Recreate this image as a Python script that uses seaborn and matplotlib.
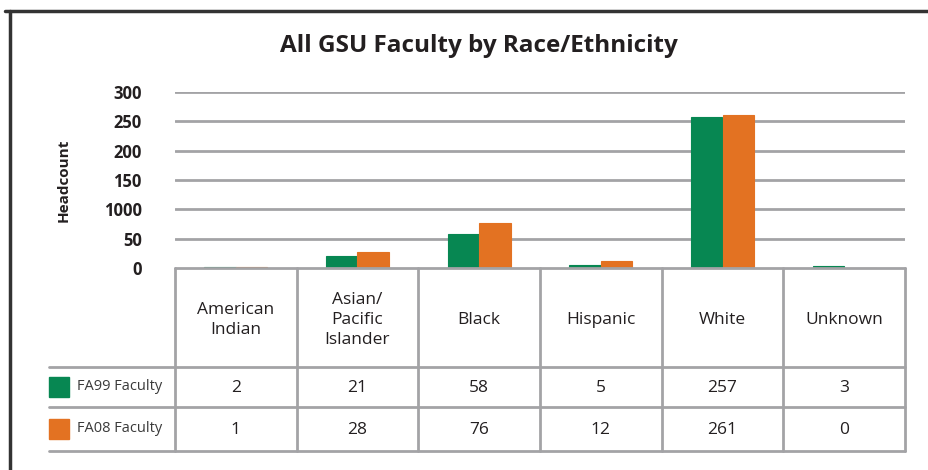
import pandas as pd
import matplotlib.pyplot as plt
import seaborn as sns
from matplotlib.lines import Line2D
from matplotlib.patches import Rectangle

# Data
categories = ['American Indian', 'Asian/Pacific Islander', 'Black', 'Hispanic', 'White', 'Unknown']
cat_labels = ['American\nIndian', 'Asian/\nPacific\nIslander', 'Black', 'Hispanic', 'White', 'Unknown']
fa99 = [2, 21, 58, 5, 257, 3]
fa08 = [1, 28, 76, 12, 261, 0]
series_names = ['FA99 Faculty', 'FA08 Faculty']
ytick_vals = [0, 50, 100, 150, 200, 250, 300]
ytick_labels = ['0', '50', '1000', '150', '200', '250', '300']  # as printed in the source

colors = ['#078752', '#E37222']
grid_col = '#A3A3A6'
text_col = '#231F20'

df = pd.DataFrame({
    'category': categories * 2,
    'series': [series_names[0]] * 6 + [series_names[1]] * 6,
    'value': fa99 + fa08,
})

sns.set_style('white')
plt.rcParams['font.family'] = ['Open Sans', 'DejaVu Sans']

W, H = 929, 470
fig = plt.figure(figsize=(W / 100, H / 100), dpi=100)

# main bar chart
ax = fig.add_axes([175 / W, (H - 268) / H, 730 / W, 176 / H])
sns.barplot(data=df, x='category', y='value', hue='series', order=categories,
            palette=colors, width=0.52, gap=0, saturation=1, legend=False, ax=ax,
            zorder=3)
# no white seams between the paired bars
for p in ax.patches:
    p.set_edgecolor(p.get_facecolor())
    p.set_linewidth(0.8)
ax.set_ylim(0, 300)
ax.set_xlim(-0.5, 5.5)
ax.set_yticks(ytick_vals)
ax.set_yticklabels(ytick_labels, fontsize=12, fontweight='bold', color=text_col)
ax.tick_params(axis='y', length=0, pad=24)
ax.set_xticks([])
ax.set_xlabel('')
ax.set_ylabel('Headcount', fontsize=11, fontweight='bold', color=text_col, labelpad=24)
for y in ytick_vals[1:]:
    ax.axhline(y, color=grid_col, lw=2, zorder=1)
for s in ax.spines.values():
    s.set_visible(False)
fig.text(479 / W, 1 - 46 / H, 'All GSU Faculty by Race/Ethnicity', fontsize=17.5,
         fontweight='bold', color=text_col, ha='center', va='center')

# data table below, y in pixel rows
tab = fig.add_axes([175 / W, (H - 451) / H, 730 / W, 183 / H])
tab.set_xlim(-0.5, 5.5)
tab.set_ylim(451, 268)
tab.axis('off')
left_x = -0.5 - 126 / (730 / 6)
kw = dict(color=grid_col, lw=2, clip_on=False)
tab.add_line(Line2D([-0.5, 5.5], [268, 268], **kw))
for yy in [367, 407, 451]:
    tab.add_line(Line2D([left_x, 5.5], [yy, yy], **kw))
for i in range(7):
    tab.add_line(Line2D([i - 0.5, i - 0.5], [268, 451], **kw))

for i, lab in enumerate(cat_labels):
    tab.text(i, 320, lab, ha='center', va='center', fontsize=12.5, color=text_col, linespacing=1.3)
    tab.text(i, 388, str(fa99[i]), ha='center', va='center', fontsize=12.5, color=text_col)
    tab.text(i, 430, str(fa08[i]), ha='center', va='center', fontsize=12.5, color=text_col)

px = 730 / 6
for name, col, yc in zip(series_names, colors, [387, 429]):
    tab.add_patch(Rectangle((left_x, yc - 10), 20 / px, 20, color=col, clip_on=False))
    tab.text(left_x + 28 / px, yc, name, ha='left', va='center', fontsize=10.5, color='#3A3A3A')

# outer frame
fig.add_artist(Line2D([5 / W, 1], [1 - 11 / H, 1 - 11 / H], color='#333333', lw=2.5))
fig.add_artist(Line2D([10 / W, 10 / W], [0, 1 - 11 / H], color='#333333', lw=2.5))

fig.savefig('out.png', dpi=100)
